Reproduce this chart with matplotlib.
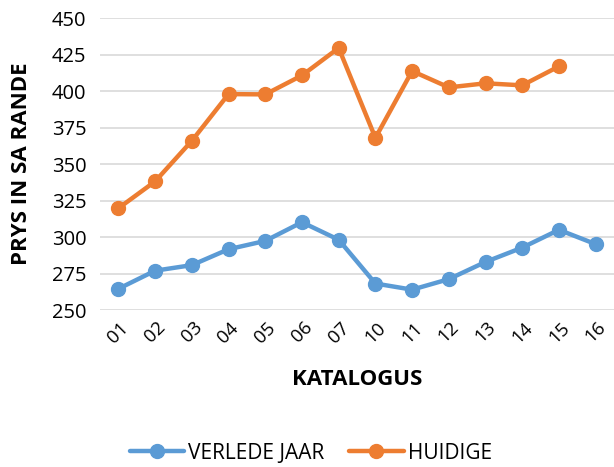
import matplotlib

matplotlib.use("Agg")
import matplotlib.pyplot as plt

catalogs = ["01", "02", "03", "04", "05", "06", "07", "10", "11", "12", "13", "14", "15", "16"]
last_year = [264.6, 277.0, 280.8, 291.7, 297.4, 310.2, 298.2, 268.2, 264.0, 271.2, 283.0, 292.8, 305.0, 295.2]
current = [319.8, 338.2, 366.0, 398.0, 397.8, 410.8, 429.6, 368.0, 413.8, 402.6, 405.4, 404.0, 417.0, None]

yticks = [250, 275, 300, 325, 350, 375, 400, 425, 450]

plt.rcParams["font.family"] = ["Open Sans", "DejaVu Sans"]

fig = plt.figure(figsize=(6.14, 4.67), dpi=100)
ax = fig.add_axes([0.163, 0.336, 0.837, 0.625])

x = list(range(len(catalogs)))
cur_x = [i for i, v in zip(x, current) if v is not None]
cur_y = [v for v in current if v is not None]

ax.plot(x, last_year, color="#5B9BD5", linewidth=3.2, marker="o",
        markersize=10, label="VERLEDE JAAR", solid_capstyle="round")
ax.plot(cur_x, cur_y, color="#ED7D31", linewidth=3.2, marker="o",
        markersize=10, label="HUIDIGE", solid_capstyle="round")

ax.set_xlim(-0.5, len(catalogs) - 0.5)
ax.set_ylim(250, 450)
ax.set_yticks(yticks)
ax.set_xticks(x)
ax.set_xticklabels(catalogs, rotation=45, fontsize=13.5)
ax.tick_params(axis="y", labelsize=14.5, length=0, pad=10)
ax.tick_params(axis="x", length=0, pad=6)

ax.grid(axis="y", color="#D9D9D9", linewidth=1.2)
ax.set_axisbelow(True)
for s in ax.spines.values():
    s.set_visible(False)

ax.set_xlabel("KATALOGUS", fontsize=16, fontweight="bold", labelpad=16)
ax.set_ylabel("PRYS IN SA RANDE", fontsize=16, fontweight="bold", labelpad=14)

ax.legend(loc="center", bbox_to_anchor=(0.41, -0.49), ncol=2, frameon=False,
          fontsize=15, handlelength=2.6, columnspacing=1.2, handletextpad=0.2)

fig.savefig("out.png", dpi=100)
